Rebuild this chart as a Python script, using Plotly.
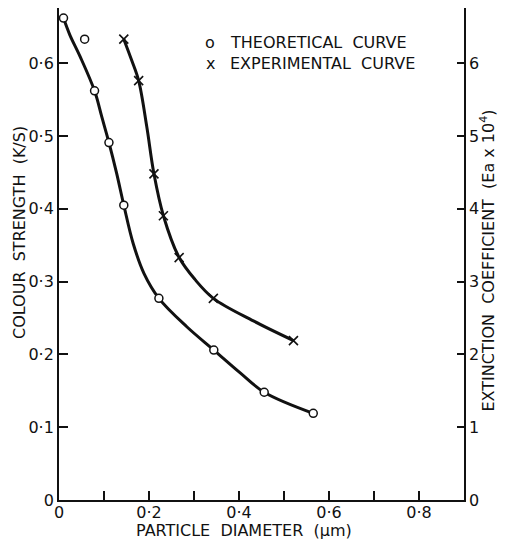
import plotly.graph_objects as go

# Theoretical curve (colour strength K/S, left axis) - measured points
theo_x = [0.010, 0.057, 0.079, 0.111, 0.144, 0.222, 0.344, 0.456, 0.565]
theo_y = [0.662, 0.633, 0.562, 0.491, 0.405, 0.277, 0.206, 0.148, 0.119]

# Drawn smooth theoretical curve (knots)
theo_curve_x = [0.010, 0.024, 0.047, 0.079, 0.095, 0.111, 0.128, 0.144, 0.165,
                0.189, 0.222, 0.284, 0.344, 0.402, 0.456, 0.565]
theo_curve_y = [0.662, 0.639, 0.609, 0.562, 0.5265, 0.491, 0.449, 0.405, 0.352,
                0.311, 0.277, 0.238, 0.206, 0.175, 0.148, 0.119]

# Experimental curve (extinction coefficient Ea x 10^4, right axis) - measured points
exp_x = [0.144, 0.177, 0.211, 0.232, 0.267, 0.343, 0.521]
exp_y = [6.33, 5.76, 4.48, 3.905, 3.33, 2.77, 2.19]

# Drawn smooth experimental curve (knots)
exp_curve_x = [0.144, 0.1615, 0.177, 0.195, 0.211, 0.232, 0.267, 0.302, 0.343, 0.432, 0.521]
exp_curve_y = [6.33, 6.04, 5.76, 5.13, 4.48, 3.905, 3.33, 3.03, 2.77, 2.46, 2.19]

# Tick labels
x_tickvals = [0, 0.2, 0.4, 0.6, 0.8]
x_ticktext = ["0", "0·2", "0·4", "0·6", "0·8"]
x_minor_vals = [0.1, 0.3, 0.5, 0.7]
y_tickvals = [0, 0.1, 0.2, 0.3, 0.4, 0.5, 0.6]
y_ticktext = ["0", "0·1", "0·2", "0·3", "0·4", "0·5", "0·6"]
y2_tickvals = [0, 1, 2, 3, 4, 5, 6]
y2_ticktext = ["0", "1", "2", "3", "4", "5", "6"]

FONT = "DejaVu Sans"
BLACK = "#111111"

fig = go.Figure()

fig.add_trace(go.Scatter(x=theo_curve_x, y=theo_curve_y, mode="lines",
                         line=dict(color=BLACK, width=3, shape="spline", smoothing=1.0),
                         hoverinfo="skip", showlegend=False))
fig.add_trace(go.Scatter(x=theo_x, y=theo_y, mode="markers",
                         marker=dict(symbol="circle", size=8, color="white",
                                     line=dict(color=BLACK, width=1.5)),
                         name="THEORETICAL CURVE", showlegend=False))
fig.add_trace(go.Scatter(x=exp_curve_x, y=exp_curve_y, mode="lines", yaxis="y2",
                         line=dict(color=BLACK, width=3, shape="spline", smoothing=1.0),
                         hoverinfo="skip", showlegend=False))
fig.add_trace(go.Scatter(x=exp_x, y=exp_y, mode="markers", yaxis="y2",
                         marker=dict(symbol="x-thin", size=9, color=BLACK,
                                     line=dict(color=BLACK, width=1.6)),
                         name="EXPERIMENTAL CURVE", showlegend=False))

axis_common = dict(showgrid=False, zeroline=False, showline=True, linecolor=BLACK,
                   linewidth=1.8, ticks="inside", tickcolor=BLACK, tickwidth=1.5,
                   tickfont=dict(family=FONT, size=16, color=BLACK))

fig.update_layout(
    width=500, height=533,
    margin=dict(l=51, r=44, t=0, b=41),
    paper_bgcolor="white", plot_bgcolor="white",
    font=dict(family=FONT, color=BLACK),
    xaxis=dict(range=[0, 0.9], tickvals=x_tickvals, ticktext=x_ticktext,
               ticklen=9, ticklabelstandoff=-3,
               minor=dict(tickvals=x_minor_vals, ticks="inside", ticklen=9,
                          tickcolor=BLACK, tickwidth=1.5, showgrid=False),
               **axis_common),
    yaxis=dict(range=[0, 0.6758], tickvals=y_tickvals, ticktext=y_ticktext,
               ticklen=9, ticklabelstandoff=0, **axis_common),
    yaxis2=dict(range=[0, 6.758], tickvals=y2_tickvals, ticktext=y2_ticktext,
                overlaying="y", side="right", ticklen=7, **axis_common),
)

# Legend as text
leg_font = dict(family=FONT, size=16, color=BLACK)
fig.add_annotation(x=0.3356, y=0.628, xref="x", yref="y", text="o", showarrow=False,
                   xanchor="center", font=leg_font)
fig.add_annotation(x=0.3756, y=0.628, xref="x", yref="y", text="THEORETICAL  CURVE",
                   showarrow=False, xanchor="left", font=leg_font)
fig.add_annotation(x=0.3356, y=0.600, xref="x", yref="y", text="x", showarrow=False,
                   xanchor="center", font=leg_font)
fig.add_annotation(x=0.3756, y=0.600, xref="x", yref="y", text="EXPERIMENTAL  CURVE",
                   showarrow=False, xanchor="left", font=leg_font)

# Axis titles
title_font = dict(family=FONT, size=16, color=BLACK)
fig.add_annotation(x=-0.0988, y=0.5447, xref="paper", yref="paper",
                   text="COLOUR  STRENGTH  (K/S)", textangle=-90, showarrow=False,
                   xanchor="center", yanchor="middle", font=title_font)
fig.add_annotation(x=1.058, y=0.4878, xref="paper", yref="paper",
                   text="EXTINCTION  COEFFICIENT  (Ea x 10<sup>4</sup>)", textangle=-90,
                   showarrow=False, xanchor="center", yanchor="middle", font=title_font)
fig.add_annotation(x=0.457, y=-0.063, xref="paper", yref="paper",
                   text="PARTICLE  DIAMETER  (μm)", showarrow=False,
                   xanchor="center", yanchor="middle", font=title_font)

fig.write_html("out.html")
